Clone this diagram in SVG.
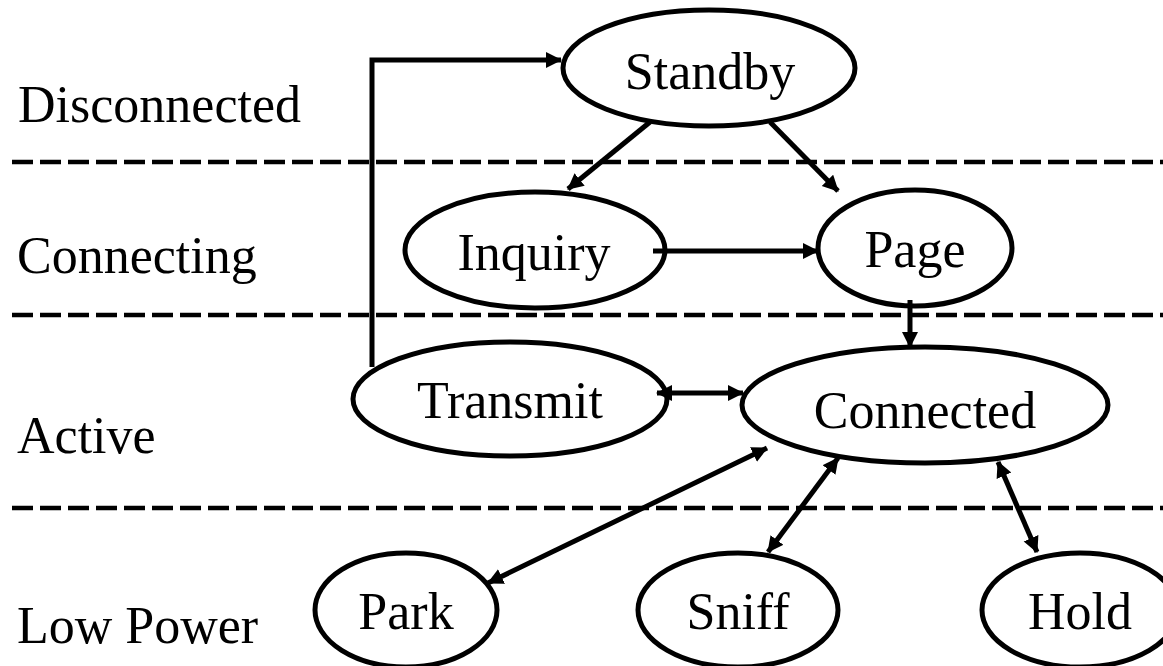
<svg xmlns="http://www.w3.org/2000/svg" width="1163" height="666" viewBox="0 0 1163 666">
<style>
text{font-family:"Liberation Serif","Times New Roman",serif;font-size:52px;fill:#000}
.n ellipse{fill:#fff;stroke:#000;stroke-width:5}
.n text{text-anchor:middle}
.sep{stroke:#000;stroke-width:4.5;stroke-dasharray:21 7}
.c{stroke:#000;stroke-width:5;fill:none}
.a{marker-end:url(#ah)}
.b{marker-start:url(#ah);marker-end:url(#ah)}
</style>
<defs>
<marker id="ah" markerUnits="userSpaceOnUse" markerWidth="18" markerHeight="18" refX="15" refY="8" orient="auto-start-reverse">
<path d="M0,0 L16,8 L0,16 z" fill="#000"/>
</marker>
</defs>
<g id="separators">
<line class="sep" x1="12" y1="162" x2="1163" y2="162"/>
<line class="sep" x1="12" y1="315" x2="1163" y2="315"/>
<line class="sep" x1="12" y1="508" x2="1163" y2="508"/>
</g>
<g id="layer-labels">
<text x="18" y="122">Disconnected</text>
<text x="17" y="273">Connecting</text>
<text x="17" y="453">Active</text>
<text x="17" y="643">Low Power</text>
</g>
<g id="standby" class="n"><ellipse cx="709" cy="68" rx="146" ry="58"/><text x="710" y="89">Standby</text></g>
<g id="inquiry" class="n"><ellipse cx="535" cy="250" rx="130" ry="58"/><text x="534" y="270">Inquiry</text></g>
<g id="page" class="n"><ellipse cx="915" cy="248" rx="97" ry="58"/><text x="915" y="267">Page</text></g>
<g id="transmit" class="n"><ellipse cx="510" cy="399" rx="157" ry="57"/><text x="510" y="418">Transmit</text></g>
<g id="connected" class="n"><ellipse cx="925" cy="405" rx="183" ry="58"/><text x="925" y="428">Connected</text></g>
<g id="park" class="n"><ellipse cx="406" cy="610" rx="91" ry="57"/><text x="406" y="629">Park</text></g>
<g id="sniff" class="n"><ellipse cx="738" cy="610" rx="100" ry="57"/><text x="738" y="629">Sniff</text></g>
<g id="hold" class="n"><ellipse cx="1080" cy="610" rx="98" ry="57"/><text x="1080" y="629">Hold</text></g>
<g id="connectors">
<polyline class="c a" points="372,367 372,60 561,60"/>
<line class="c a" x1="650" y1="122" x2="568" y2="189"/>
<line class="c a" x1="770" y1="122" x2="838" y2="191"/>
<line class="c a" x1="653" y1="251" x2="818" y2="251"/>
<line class="c a" x1="910" y1="300" x2="910" y2="347"/>
<line class="c b" x1="657" y1="393" x2="743" y2="393"/>
<line class="c b" x1="767" y1="448" x2="488" y2="583"/>
<line class="c b" x1="838" y1="458" x2="768" y2="552"/>
<line class="c b" x1="998" y1="462" x2="1037" y2="552"/>
</g>
</svg>
